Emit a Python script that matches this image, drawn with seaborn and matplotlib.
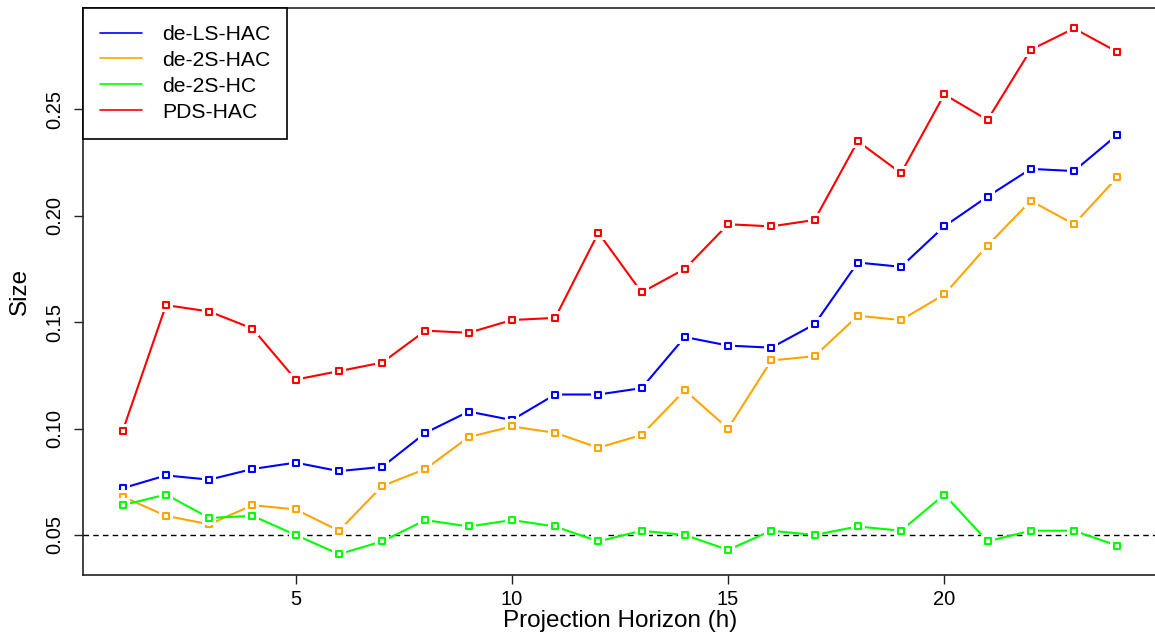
import numpy as np
import pandas as pd
import matplotlib
matplotlib.use("Agg")
import matplotlib.pyplot as plt
import seaborn as sns
from matplotlib.lines import Line2D

# ---- data ----
horizon = list(range(1, 25))
de_ls_hac = [0.072, 0.078, 0.076, 0.081, 0.084, 0.080, 0.082, 0.098, 0.108, 0.104, 0.116, 0.116,
             0.119, 0.143, 0.139, 0.138, 0.149, 0.178, 0.176, 0.195, 0.209, 0.222, 0.221, 0.238]
de_2s_hac = [0.068, 0.059, 0.055, 0.064, 0.062, 0.052, 0.073, 0.081, 0.096, 0.101, 0.098, 0.091,
             0.097, 0.118, 0.100, 0.132, 0.134, 0.153, 0.151, 0.163, 0.186, 0.207, 0.196, 0.218]
de_2s_hc = [0.064, 0.069, 0.058, 0.059, 0.050, 0.041, 0.047, 0.057, 0.054, 0.057, 0.054, 0.047,
            0.052, 0.050, 0.043, 0.052, 0.050, 0.054, 0.052, 0.069, 0.047, 0.052, 0.052, 0.045]
pds_hac = [0.099, 0.158, 0.155, 0.147, 0.123, 0.127, 0.131, 0.146, 0.145, 0.151, 0.152, 0.192,
           0.164, 0.175, 0.196, 0.195, 0.198, 0.235, 0.220, 0.257, 0.245, 0.278, 0.288, 0.277]
series_names = ["de-LS-HAC", "de-2S-HAC", "de-2S-HC", "PDS-HAC"]
series_colors = ["#0000FF", "#FFA500", "#00FF00", "#FF0000"]
ref_level = 0.05
x_ticks = [5, 10, 15, 20]
y_ticks = [0.05, 0.10, 0.15, 0.20, 0.25]
y_tick_labels = ["0.05", "0.10", "0.15", "0.20", "0.25"]

df = pd.DataFrame({
    "h": horizon * 4,
    "size": de_ls_hac + de_2s_hac + de_2s_hc + pds_hac,
    "method": sum([[n] * len(horizon) for n in series_names], []),
})

sns.set_theme(style="white")
plt.rcParams["font.family"] = ["Liberation Sans", "DejaVu Sans"]
plt.rcParams["text.color"] = "black"
plt.rcParams["axes.labelcolor"] = "black"
plt.rcParams["xtick.color"] = "black"
plt.rcParams["ytick.color"] = "black"

fig = plt.figure(figsize=(11.55, 6.44), dpi=100)
left_px, right_px, top_px, bot_px = 83, 1157, 8, 575
ax = fig.add_axes([left_px / 1155, 1 - bot_px / 644,
                   (right_px - left_px) / 1155, (bot_px - top_px) / 644])

palette = dict(zip(series_names, series_colors))
for i, name in enumerate(series_names):
    sub = df[df["method"] == name]
    sns.lineplot(data=sub, x="h", y="size", color=palette[name], lw=1.5,
                 ax=ax, zorder=3 + 3 * i, legend=False)
    sns.scatterplot(data=sub, x="h", y="size", marker="s", s=105, color="white",
                    linewidth=0, ax=ax, zorder=4 + 3 * i, legend=False)
    sns.scatterplot(data=sub, x="h", y="size", marker="s", s=24, facecolor="white",
                    edgecolor=palette[name], linewidth=1.5, ax=ax, zorder=5 + 3 * i,
                    legend=False)

ax.axhline(ref_level, color="black", lw=1.0, ls=(0, (4, 3)), zorder=2)

ax.set_xlim(0.08, 24.92)
ax.set_ylim(0.0312, 0.2976)
ax.set_xticks(x_ticks)
ax.set_yticks(y_ticks)
ax.set_yticklabels(y_tick_labels)
ax.tick_params(axis="both", direction="out", length=6.5, width=1.0, color="#222222",
               labelsize=14.5, bottom=True, left=True)
ax.tick_params(axis="x", pad=4)
ax.tick_params(axis="y", pad=7)
for lab in ax.get_yticklabels():
    lab.set_rotation(90)
    lab.set_va("center")
    lab.set_ha("right")

for sp in ax.spines.values():
    sp.set_color("#222222")
    sp.set_linewidth(1.2)

ax.set_xlabel("Projection Horizon (h)", fontsize=17.5, labelpad=1)
ax.set_ylabel("Size", fontsize=17.5, labelpad=10)

handles = [Line2D([], [], color=c, lw=1.2) for c in series_colors]
leg = ax.legend(handles, series_names, loc="upper left", bbox_to_anchor=(0, 1),
                borderaxespad=0, fontsize=15.2, frameon=True, fancybox=False,
                handlelength=2.0, handletextpad=0.95, labelspacing=0.33,
                borderpad=0.8)
leg.get_frame().set_edgecolor("black")
leg.get_frame().set_linewidth(1.2)
leg.get_frame().set_alpha(1)
leg.set_zorder(50)

fig.savefig("out.png", dpi=100)
